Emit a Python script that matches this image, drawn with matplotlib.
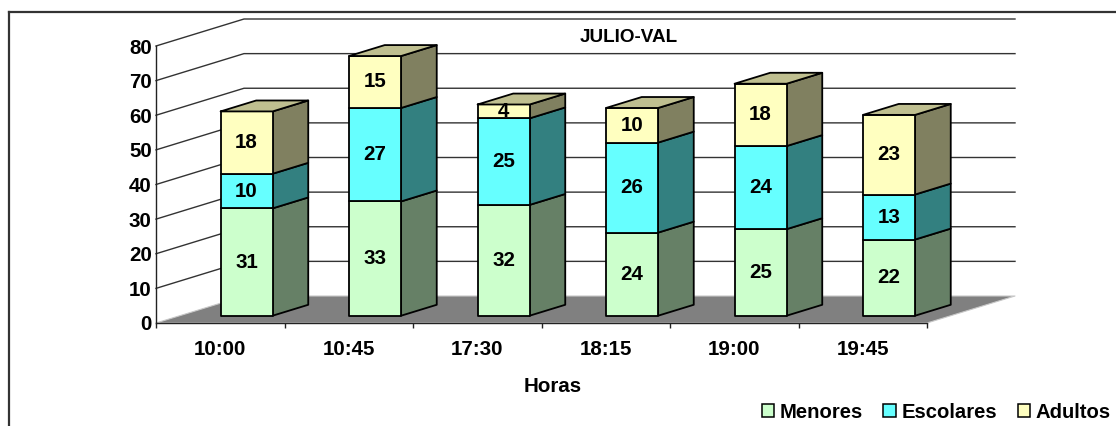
import matplotlib
matplotlib.use('Agg')
import matplotlib.pyplot as plt
import numpy as np
from matplotlib.lines import Line2D
from matplotlib.patches import Polygon, Patch

plt.rcParams['font.family'] = ['Liberation Sans', 'DejaVu Sans']
plt.rcParams['font.weight'] = 'bold'

horas = ['10:00', '10:45', '17:30', '18:15', '19:00', '19:45']
menores = [31, 33, 32, 24, 25, 22]
escolares = [10, 27, 25, 26, 24, 13]
adultos = [18, 15, 4, 10, 18, 23]
y_ticks = [0, 10, 20, 30, 40, 50, 60, 70, 80]

W, H = 1116, 426
FS = 14.8
colors = {'Menores': '#CCFFCC', 'Escolares': '#66FFFF', 'Adultos': '#FFFFC0'}

fig = plt.figure(figsize=(W / 100, H / 100), dpi=100)
ax = fig.add_axes([156 / W, 1 - 323 / H, (927 - 156) / W, (323 - 46) / H])
ax.set_xlim(0, 6)
ax.set_ylim(0, 80)
ax.patch.set_visible(False)

# oblique depth, in data units: depth 1 is the back wall
dx_depth = 88 / (771 / 6)
dy_depth = 27 / (277 / 80)


def proj(x, y, d):
    return x + d * dx_depth, y + d * dy_depth


def poly(points, color, z, edge='black', lw=1.3):
    ax.add_patch(Polygon(points, closed=True, facecolor=color, edgecolor=edge,
                         linewidth=lw, zorder=z, clip_on=False,
                         joinstyle='round'))


def shade(color, k):
    return tuple(np.array(matplotlib.colors.to_rgb(color)) * k)


# floor
poly([proj(0, 0, 0), proj(6, 0, 0), proj(6, 0, 1), proj(0, 0, 1)],
     '#808080', 1, edge='#C8C8C8', lw=0.8)

# grid lines on side and back wall
for v in y_ticks[1:]:
    pts = [proj(0, v, 0), proj(0, v, 1), proj(6, v, 1)]
    ax.plot([p[0] for p in pts], [p[1] for p in pts], color='#333333', lw=1.0,
            zorder=0, clip_on=False)

# stacked bars
d0, d1 = 0.27, 0.675
bar_w = 0.405
shift = 0.02
for i in range(len(horas)):
    x0 = i + 0.5 + shift - bar_w / 2
    x1 = x0 + bar_w
    base = 0
    for name, vals in (('Menores', menores), ('Escolares', escolares), ('Adultos', adultos)):
        top = base + vals[i]
        c = colors[name]
        z = 3 + i
        poly([proj(x1, base, d0), proj(x1, base, d1), proj(x1, top, d1), proj(x1, top, d0)],
             shade(c, 0.5), z)
        poly([proj(x0, base, d0), proj(x1, base, d0), proj(x1, top, d0), proj(x0, top, d0)],
             c, z)
        if name == 'Adultos':
            poly([proj(x0, top, d0), proj(x1, top, d0), proj(x1, top, d1), proj(x0, top, d1)],
                 shade(c, 0.75), z)
        lx, ly = proj(i + 0.5 + shift, base + vals[i] / 2, d0)
        ax.text(lx, ly, str(vals[i]), ha='center', va='center', fontsize=FS,
                fontweight='bold', color='black', zorder=20)
        base = top

# axes
for s in ('top', 'right'):
    ax.spines[s].set_visible(False)
for s in ('left', 'bottom'):
    ax.spines[s].set_color('#222222')
    ax.spines[s].set_linewidth(1.0)
    ax.spines[s].set_zorder(2)
ax.set_yticks(y_ticks)
ax.set_yticklabels([str(v) for v in y_ticks], fontsize=FS, fontweight='bold')
ax.tick_params(axis='y', length=0, pad=3)
ax.set_xticks(range(7))
ax.set_xticklabels([])
ax.set_xticks(np.arange(len(horas)) + 0.5, minor=True)
ax.set_xticklabels(horas, minor=True, fontsize=FS, fontweight='bold')
ax.tick_params(axis='x', which='major', length=3.6, width=1.0, color='#222222')
ax.tick_params(axis='x', which='minor', length=0, pad=12)

fig.text(629 / W, 1 - 37 / H, 'JULIO-VAL', ha='center', va='center',
         fontsize=13.6, fontweight='bold')
fig.text(553 / W, 1 - 386 / H, 'Horas', ha='center', va='center',
         fontsize=FS, fontweight='bold')

handles = [Patch(facecolor=c, edgecolor='black', linewidth=1.1, label=n)
           for n, c in colors.items()]
fig.legend(handles=handles, ncols=3, loc='center right',
           bbox_to_anchor=(1111 / W, 1 - 412 / H), frameon=False,
           fontsize=14.6, handlelength=0.6, handleheight=0.6,
           handletextpad=0.3, columnspacing=1.0, borderpad=0, borderaxespad=0)

# chart frame, cut by the image on the right and at the bottom
fig.add_artist(Line2D([9 / W, 1], [1 - 12 / H, 1 - 12 / H], color='#333333', lw=1.6))
fig.add_artist(Line2D([9 / W, 9 / W], [1 - 12 / H, 0], color='#333333', lw=1.6))

fig.savefig('out.png', dpi=100)
